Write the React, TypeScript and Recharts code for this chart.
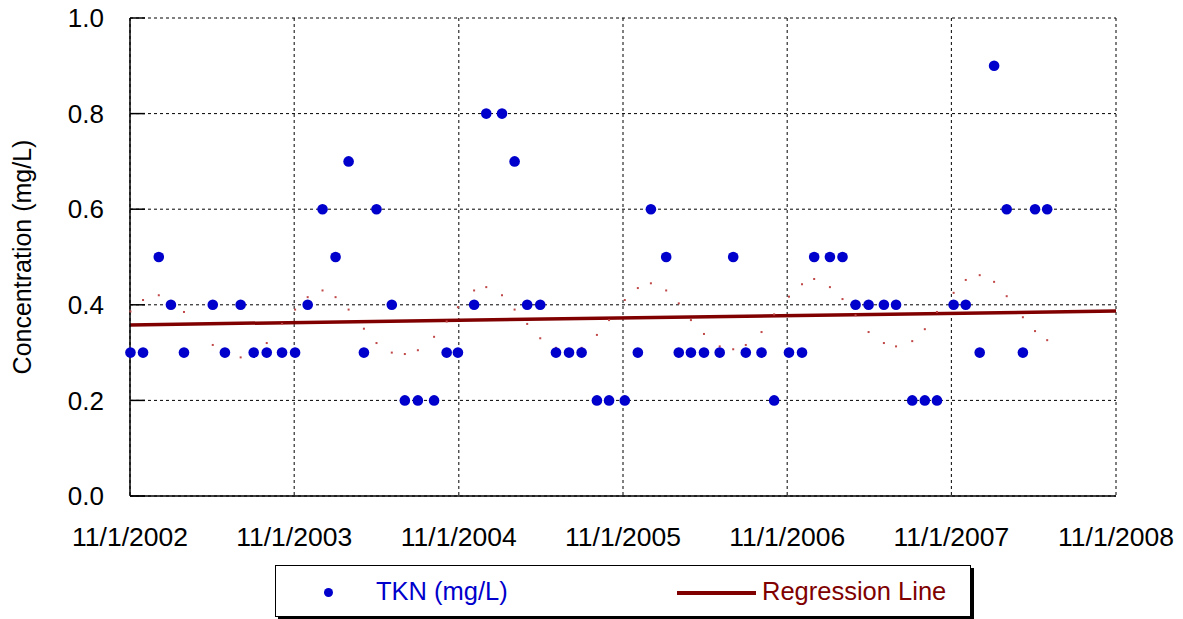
import React from 'react';
import { ComposedChart, Scatter, Line, XAxis, YAxis, CartesianGrid } from 'recharts';

// sample dates (approximate)
const sampleDates = [
    '2002-11-02', '2002-11-30', '2003-01-04', '2003-01-31', '2003-03-01', '2003-05-04', '2003-05-31',
    '2003-07-05', '2003-08-03', '2003-09-01', '2003-10-05', '2003-11-03', '2003-12-01', '2004-01-03',
    '2004-02-01', '2004-03-01', '2004-04-04', '2004-05-02', '2004-06-05', '2004-07-04', '2004-08-02',
    '2004-09-07', '2004-10-05', '2004-10-30', '2004-12-05', '2005-01-01', '2005-02-05', '2005-03-05',
    '2005-04-02', '2005-05-01', '2005-06-05', '2005-07-04', '2005-08-01', '2005-09-04', '2005-10-01',
    '2005-11-05', '2005-12-04', '2006-01-02', '2006-02-05', '2006-03-05', '2006-04-01', '2006-04-30',
    '2006-06-04', '2006-07-04', '2006-08-01', '2006-09-05', '2006-10-03', '2006-11-05', '2006-12-04',
    '2006-12-31', '2007-02-04', '2007-03-04', '2007-04-02', '2007-05-01', '2007-06-04', '2007-07-01',
    '2007-08-06', '2007-09-03', '2007-09-30', '2007-11-06', '2007-12-03', '2008-01-03', '2008-02-04',
    '2008-03-03', '2008-04-08', '2008-05-05', '2008-06-01',
];

const tknValues = [
    0.3, 0.3, 0.5, 0.4, 0.3, 0.4, 0.3, 0.4, 0.3, 0.3, 0.3, 0.3, 0.4, 0.6,
    0.5, 0.7, 0.3, 0.6, 0.4, 0.2, 0.2, 0.2, 0.3, 0.3, 0.4, 0.8, 0.8, 0.7,
    0.4, 0.4, 0.3, 0.3, 0.3, 0.2, 0.2, 0.2, 0.3, 0.6, 0.5, 0.3, 0.3, 0.3,
    0.3, 0.5, 0.3, 0.3, 0.2, 0.3, 0.3, 0.5, 0.5, 0.5, 0.4, 0.4, 0.4, 0.4,
    0.2, 0.2, 0.2, 0.4, 0.4, 0.3, 0.9, 0.6, 0.3, 0.6, 0.6,
];

// faint seasonal fit, one value per sample
const seasonalValues = [
    0.386, 0.41, 0.42, 0.40, 0.385, 0.316, 0.30, 0.29, 0.30, 0.32, 0.36, 0.39, 0.416, 0.43,
    0.416, 0.39, 0.35, 0.32, 0.30, 0.297, 0.305, 0.333, 0.365, 0.395, 0.43, 0.437, 0.42, 0.39,
    0.36, 0.33, 0.31, 0.30, 0.31, 0.337, 0.368, 0.41, 0.435, 0.445, 0.43, 0.403, 0.368, 0.339,
    0.313, 0.307, 0.316, 0.343, 0.38, 0.417, 0.443, 0.454, 0.437, 0.412, 0.378, 0.343, 0.32, 0.313,
    0.324, 0.349, 0.385, 0.425, 0.452, 0.462, 0.448, 0.418, 0.374, 0.345, 0.326,
];

const regressionDates = ['2002-11-01', '2008-11-01'];
const regressionValues = [0.358, 0.387];

const xTickDates = ['2002-11-01', '2003-11-01', '2004-11-01', '2005-11-01', '2006-11-01', '2007-11-01', '2008-11-01'];
const yTicks = [0, 0.2, 0.4, 0.6, 0.8, 1.0];

const toTime = (d: string) => Date.parse(d + 'T00:00:00Z');

const tknData = sampleDates.map((d, i) => ({ x: toTime(d), y: tknValues[i] }));
const seasonalData = sampleDates.map((d, i) => ({ x: toTime(d), y: seasonalValues[i] }));
const regressionData = regressionDates.map((d, i) => ({ x: toTime(d), y: regressionValues[i] }));
const xTicks = xTickDates.map(toTime);

const fmtDate = (t: number) => {
    const d = new Date(t);
    return `${d.getUTCMonth() + 1}/${d.getUTCDate()}/${d.getUTCFullYear()}`;
};

const FONT = '"Liberation Sans", Arial, sans-serif';
const BLUE = '#0000CC';
const DARK_RED = '#800000';

const App: React.FC = () => {
    return (
        <div style={{ position: 'absolute', left: 0, top: 0, width: 1183, height: 619, background: '#fff', fontFamily: FONT }}>
            <ComposedChart width={1183} height={619} margin={{ top: 18, right: 67, bottom: 93, left: 0 }}>
                <CartesianGrid stroke="#000" strokeDasharray="3 3" />
                <XAxis
                    dataKey="x"
                    type="number"
                    domain={[xTicks[0], xTicks[xTicks.length - 1]]}
                    ticks={xTicks}
                    tickFormatter={fmtDate}
                    height={30}
                    tickSize={0}
                    tickMargin={31}
                    axisLine={{ stroke: '#000', strokeWidth: 1.5 }}
                    tick={{ fontSize: 26.5, fill: '#000', fontFamily: FONT }}
                    interval={0}
                />
                <XAxis
                    xAxisId="top"
                    orientation="top"
                    type="number"
                    domain={[xTicks[0], xTicks[xTicks.length - 1]]}
                    height={0}
                    tick={false}
                    tickLine={false}
                    axisLine={{ stroke: '#000', strokeWidth: 1.5 }}
                />
                <YAxis
                    type="number"
                    domain={[0, 1]}
                    ticks={yTicks}
                    width={130}
                    tickFormatter={(v: number) => v.toFixed(1)}
                    tickSize={-15}
                    tickMargin={41}
                    tickLine={{ stroke: '#000', strokeWidth: 1.5 }}
                    axisLine={{ stroke: '#000', strokeWidth: 1.5 }}
                    tick={{ fontSize: 26, fill: '#000', fontFamily: FONT }}
                    interval={0}
                    label={{
                        value: 'Concentration (mg/L)',
                        angle: -90,
                        position: 'center',
                        dx: -43,
                        style: { fontSize: 25, fill: '#000', fontFamily: FONT, textAnchor: 'middle' },
                    }}
                />
                <YAxis
                    yAxisId="right"
                    orientation="right"
                    type="number"
                    domain={[0, 1]}
                    ticks={yTicks}
                    width={0}
                    tickSize={-15}
                    tickFormatter={() => ''}
                    tickLine={{ stroke: '#000', strokeWidth: 1.5 }}
                    axisLine={{ stroke: '#333', strokeWidth: 2 }}
                />
                <Scatter
                    data={seasonalData}
                    dataKey="y"
                    isAnimationActive={false}
                    shape={(p: any) => <rect x={p.cx - 1} y={p.cy - 1} width={2} height={2} fill="#c04848" />}
                />
                <Line
                    data={regressionData}
                    dataKey="y"
                    stroke={DARK_RED}
                    strokeWidth={3.5}
                    dot={false}
                    activeDot={false}
                    isAnimationActive={false}
                />
                <Scatter
                    data={tknData}
                    dataKey="y"
                    fill={BLUE}
                    isAnimationActive={false}
                    shape={(p: any) => <circle cx={p.cx} cy={p.cy} r={5.3} fill={BLUE} />}
                />
            </ComposedChart>
            <div
                style={{
                    position: 'absolute',
                    left: 275,
                    top: 565,
                    width: 694,
                    height: 50,
                    border: '1.5px solid #000',
                    boxShadow: '3px 3px 0 #000',
                    background: '#fff',
                    fontSize: 25.5,
                }}
            >
                <div style={{ position: 'absolute', left: 48, top: 22, width: 9, height: 9, borderRadius: '50%', background: BLUE }} />
                <span style={{ position: 'absolute', left: 100, top: 10, color: BLUE, lineHeight: '30px' }}>TKN (mg/L)</span>
                <div style={{ position: 'absolute', left: 401, top: 25, width: 79, height: 4, background: DARK_RED }} />
                <span style={{ position: 'absolute', left: 486, top: 10, color: DARK_RED, lineHeight: '30px' }}>Regression Line</span>
            </div>
        </div>
    );
};

export default App;
